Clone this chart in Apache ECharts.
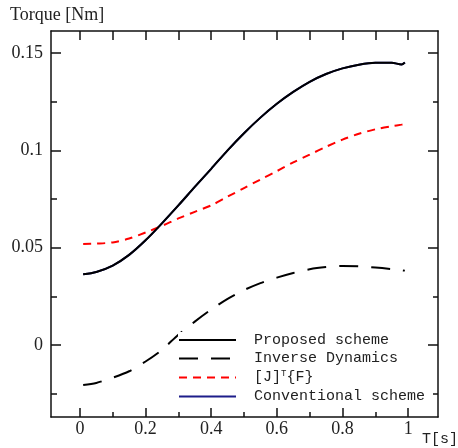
<!DOCTYPE html>
<html>
<head>
<meta charset="utf-8">
<script src="https://cdn.jsdelivr.net/npm/echarts@6/dist/echarts.min.js"></script>
<style>
  html, body { margin: 0; padding: 0; background: #fff; }
  #chart { width: 458px; height: 448px; }
</style>
</head>
<body>
<div id="chart"></div>
<script>
// Time samples [s]
const time = [0.01, 0.05, 0.1, 0.15, 0.2, 0.25, 0.3, 0.35, 0.4, 0.45, 0.5,
              0.55, 0.6, 0.65, 0.7, 0.75, 0.8, 0.85, 0.9, 0.95, 0.98, 0.99];

// Joint torque [Nm] for each method
const proposed = [0.0363, 0.0375, 0.0408, 0.0463, 0.0538, 0.0625, 0.0717, 0.0812, 0.0905, 0.1000, 0.1088,
                  0.1168, 0.1239, 0.1300, 0.1352, 0.1392, 0.1421, 0.1440, 0.1450, 0.1450, 0.1441, 0.1451];
const inverseDyn = [-0.0206, -0.0195, -0.0168, -0.0135, -0.0085, -0.0025, 0.0053, 0.0120, 0.0182, 0.0237, 0.0282,
                    0.0318, 0.0346, 0.0370, 0.0389, 0.0400, 0.0406, 0.0404, 0.0398, 0.0390, 0.0384, 0.0382];
const jacobianForce = [0.0519, 0.0521, 0.0527, 0.0547, 0.0578, 0.0612, 0.0650, 0.0684, 0.0717, 0.0762, 0.0806,
                       0.0850, 0.0893, 0.0938, 0.0978, 0.1018, 0.1055, 0.1085, 0.1108, 0.1124, 0.1132, 0.1135];
const conventional = [0.0363, 0.0375, 0.0408, 0.0463, 0.0538, 0.0625, 0.0717, 0.0812, 0.0905, 0.1000, 0.1088,
                      0.1168, 0.1239, 0.1300, 0.1352, 0.1392, 0.1421, 0.1440, 0.1450, 0.1450, 0.1441, 0.1451];

// Axis ticks
const xMajor = [0, 0.2, 0.4, 0.6, 0.8, 1];
const xMinor = [0.1, 0.3, 0.5, 0.7, 0.9];
const xTop = [0, 0.1, 0.2, 0.3, 0.4, 0.5, 0.6, 0.7, 0.8, 0.9, 1];
const yMajor = [0, 0.05, 0.1, 0.15];
const yMinor = [-0.025, 0.025, 0.075, 0.125];

const NAMES = ['Proposed scheme', 'Inverse Dynamics', '[J]T{F}', 'Conventional scheme'];

const pair = (ys) => time.map((t, i) => [t, ys[i]]);

const X_MIN = -0.088, X_MAX = 1.091;
const Y_MIN = -0.037, Y_MAX = 0.1613;

const serif = 'Liberation Serif';
const mono = 'Liberation Mono';
const lineOn = { show: true, onZero: false, lineStyle: { color: '#111', width: 1.5 } };
const lineOff = { show: false, onZero: false };

function xAxis(position, ticks, len, labels, showLine) {
  return {
    type: 'value', min: X_MIN, max: X_MAX, position: position,
    axisLine: showLine ? lineOn : lineOff,
    splitLine: { show: false },
    axisTick: { show: true, inside: true, length: len, customValues: ticks,
                lineStyle: { color: '#111', width: 1.5 } },
    axisLabel: labels ? { show: true, customValues: ticks, margin: 3, fontFamily: serif,
                          fontSize: 18, color: '#222', formatter: (v) => String(+v.toFixed(2)) }
                      : { show: false }
  };
}
function yAxis(position, ticks, len, labels, showLine) {
  return {
    type: 'value', min: Y_MIN, max: Y_MAX, position: position,
    axisLine: showLine ? lineOn : lineOff,
    splitLine: { show: false },
    axisTick: { show: true, inside: true, length: len, customValues: ticks,
                lineStyle: { color: '#111', width: 1.5 } },
    axisLabel: labels ? { show: true, customValues: ticks, margin: 8, fontFamily: serif,
                          fontSize: 18, color: '#222', formatter: (v) => String(+v.toFixed(3)) }
                      : { show: false }
  };
}

const chart = echarts.init(document.getElementById('chart'), null, { renderer: 'canvas' });
chart.setOption({
  animation: false,
  backgroundColor: '#fff',
  grid: { left: 51, top: 31, right: 20, bottom: 31, containLabel: false },
  xAxis: [
    xAxis('bottom', xMajor, 9, true, true),
    xAxis('bottom', xMinor, 5, false, false),
    xAxis('top', xTop, 9, false, true)
  ],
  yAxis: [
    yAxis('left', yMajor, 10, true, true),
    yAxis('left', yMinor, 6, false, false),
    yAxis('right', yMajor, 10, false, true),
    yAxis('right', yMinor, 5, false, false)
  ],
  legend: {
    data: NAMES,
    orient: 'vertical',
    left: 178, top: 332,
    itemWidth: 57, itemHeight: 12, itemGap: 2.5,
    padding: 0,
    backgroundColor: '#fff',
    itemStyle: { opacity: 0 },
    formatter: (name) => name === '[J]T{F}' ? '[J]{sup|T}{F}' : name,
    textStyle: {
      fontFamily: mono, fontSize: 15, lineHeight: 16, color: '#222', padding: [0, 0, 0, 13],
      rich: { sup: { fontFamily: mono, fontSize: 9, lineHeight: 16, padding: [0, 0, 8, 0], color: '#222' } }
    }
  },
  graphic: [
    { type: 'text', left: 10, top: 6,
      style: { text: 'Torque [Nm]', font: '18px "Liberation Serif"', fill: '#222' } },
    { type: 'text', left: 422, top: 432,
      style: { text: 'T[s]', font: '15px "Liberation Mono"', fill: '#222' } }
  ],
  series: [
    { name: NAMES[3], type: 'line', data: pair(conventional), symbol: 'none', smooth: 0.3, z: 1,
      lineStyle: { color: '#1d1d8a', width: 2 }, itemStyle: { color: '#1d1d8a' } },
    { name: NAMES[0], type: 'line', data: pair(proposed), symbol: 'none', smooth: 0.3, z: 3,
      lineStyle: { color: '#000', width: 2 }, itemStyle: { color: '#000' } },
    { name: NAMES[1], type: 'line', data: pair(inverseDyn), symbol: 'none', smooth: 0.3, z: 2,
      lineStyle: { color: '#000', width: 2, type: [19, 13] }, itemStyle: { color: '#000' } },
    { name: NAMES[2], type: 'line', data: pair(jacobianForce), symbol: 'none', smooth: 0.3, z: 2,
      lineStyle: { color: '#f00', width: 2, type: [8, 6] }, itemStyle: { color: '#f00' } }
  ]
});
</script>
</body>
</html>
